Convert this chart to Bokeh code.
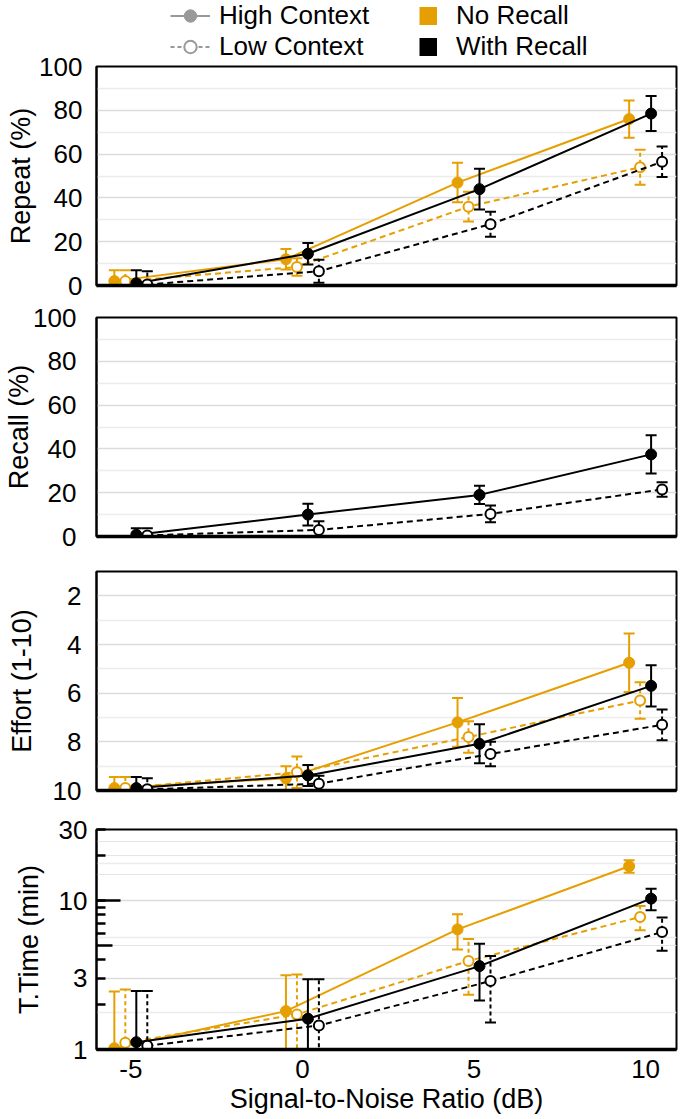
import numpy as np
from bokeh.plotting import figure
from bokeh.layouts import column
from bokeh.models import (Range1d, FixedTicker, LogAxis, Legend, LegendItem, Grid,
                          CustomJSTickFormatter)
from bokeh.embed import file_html
from bokeh.resources import INLINE

# ---------------- data ----------------
snr = [-5, 0, 5, 10]
snr_ticks = [-5, 0, 5, 10]

# Repeat (%)
repeat_nr_hi = [2, 12, 47, 76]
repeat_nr_hi_err = [5, 4.7, 9, 8.5]
repeat_nr_lo = [2, 8.5, 36, 54]
repeat_nr_lo_err = [5, 4, 6.8, 8]
repeat_wr_hi = [1, 14.5, 44, 78.5]
repeat_wr_hi_err = [6, 4.9, 9.3, 8]
repeat_wr_lo = [0.5, 6.5, 28, 56.5]
repeat_wr_lo_err = [6, 5.3, 5.7, 7]

# Recall (%)  (only the With Recall condition)
recall_wr_hi = [0.8, 10, 19, 37.5]
recall_wr_hi_err = [3, 5, 4.2, 8.7]
recall_wr_lo = [0.5, 3, 10.3, 21.5]
recall_wr_lo_err = [3.3, 4, 3.8, 3.3]

# Effort (1-10)
effort_nr_hi = [9.9, 9.5, 7.2, 4.75]
effort_nr_hi_err = [0.45, 0.5, 1.0, 1.2]
effort_nr_lo = [9.9, 9.25, 7.8, 6.3]
effort_nr_lo_err = [0.45, 0.65, 0.65, 0.75]
effort_wr_hi = [9.9, 9.38, 8.08, 5.7]
effort_wr_hi_err = [0.45, 0.43, 0.8, 0.85]
effort_wr_lo = [9.95, 9.72, 8.5, 7.3]
effort_wr_lo_err = [0.45, 0.33, 0.5, 0.63]

# T.Time (min)
ttime_nr_hi = [1.02, 1.81, 6.4, 17.0]
ttime_nr_hi_err = [1.43, 1.34, 1.7, 1.65]
ttime_nr_lo = [1.11, 1.72, 3.93, 7.76]
ttime_nr_lo_err = [1.42, 1.47, 1.6, 1.45]
ttime_wr_hi = [1.12, 1.61, 3.63, 10.3]
ttime_wr_hi_err = [1.35, 1.35, 1.5, 1.7]
ttime_wr_lo = [1.06, 1.45, 2.88, 6.15]
ttime_wr_lo_err = [1.41, 1.51, 1.36, 1.55]

pct_ticks = [0, 20, 40, 60, 80, 100]
pct_minor = [10, 30, 50, 70, 90]
effort_ticks = [2, 4, 6, 8, 10]
effort_minor = [3, 5, 7, 9]
time_ticks = [1, 3, 10, 30]
time_minor_ticks = [2, 4, 6, 7, 8, 9, 20]
time_long_ticks = [10]
time_mid_ticks = [5]
time_grid_major = [3, 10]
time_grid_minor = [1.78, 5.62, 17.8]

legend_context = ["High Context", "Low Context"]
legend_recall = ["No Recall", "With Recall"]

# ---------------- style ----------------
ORANGE = "#E69F00"
BLACK = "#000000"
GREY = "#999999"
FONT = "Liberation Sans"
FS = "26px"
TFS = "27px"
OFFS = {"nr_hi": -0.48, "nr_lo": -0.16, "wr_hi": 0.16, "wr_lo": 0.48}
EMPTY = CustomJSTickFormatter(code="return '';")
PLAIN = CustomJSTickFormatter(code="return tick.toString();")
NAN = [float("nan")]


def make_fig(height, top, bottom, y_range, log=False):
    p = figure(width=680, height=height,
               x_range=Range1d(-6, 10.9), y_range=y_range,
               y_axis_type="log" if log else "linear",
               y_axis_location=None if log else "left",
               toolbar_location=None, output_backend="svg",
               min_border_left=96, min_border_right=4,
               min_border_top=top, min_border_bottom=bottom)
    p.outline_line_color = "black"
    p.outline_line_width = 2
    p.outline_line_alpha = 1
    p.background_fill_color = "white"
    p.border_fill_color = "white"
    p.xgrid.visible = False
    ax = p.xaxis[0]
    ax.ticker = FixedTicker(ticks=snr_ticks)
    ax.axis_line_width = 3.5
    ax.axis_line_color = "black"
    ax.major_tick_line_color = None
    ax.minor_tick_line_color = None
    return p


def style_y(ax, standoff, title, title_standoff):
    ax.axis_label = title
    ax.axis_label_text_font = FONT
    ax.axis_label_text_font_size = TFS
    ax.axis_label_text_font_style = "normal"
    ax.axis_label_text_color = "black"
    ax.axis_label_standoff = title_standoff
    ax.major_label_text_font = FONT
    ax.major_label_text_font_size = FS
    ax.major_label_text_color = "black"
    ax.major_label_standoff = standoff
    ax.axis_line_width = 2
    ax.axis_line_color = "black"


def hide_x_labels(p):
    ax = p.xaxis[0]
    ax.formatter = EMPTY
    ax.major_label_text_font_size = "1px"
    ax.major_label_standoff = 0


def draw(p, vals, errs, color, hollow, offset, log=False):
    x = [s + offset for s in snr]
    v = np.array(vals, dtype=float)
    e = np.array(errs, dtype=float)
    lo = v - e
    hi = v + e
    if log:
        lo = np.maximum(lo, 0.05)
    dash = "6 4" if hollow else "solid"
    p.line(x, vals, line_color=color, line_width=2, line_dash=dash)
    p.segment(x, lo, x, hi, line_color=color, line_width=2,
              line_dash="4 3" if hollow else "solid")
    p.scatter(x, hi, marker="dash", size=11, line_color=color, line_width=2)
    p.scatter(x, lo, marker="dash", size=11, line_color=color, line_width=2)
    if hollow:
        p.scatter(x, vals, marker="circle", size=10, fill_color="white",
                  line_color=color, line_width=2)
    else:
        p.scatter(x, vals, marker="circle", size=11, fill_color=color,
                  line_color=color, line_width=1)


def pct_grid(p, ticks, minor):
    p.yaxis[0].ticker = FixedTicker(ticks=ticks, minor_ticks=minor)
    p.yaxis[0].major_tick_line_color = None
    p.yaxis[0].minor_tick_line_color = None
    p.ygrid.grid_line_color = "#dcdcdc"
    p.ygrid.grid_line_width = 1.5
    p.ygrid.minor_grid_line_color = "#ececec"
    p.ygrid.minor_grid_line_width = 1.5


# ---------------- legend strip ----------------
pl = figure(width=680, height=56, x_range=Range1d(0, 1), y_range=Range1d(0, 1),
            x_axis_location=None, y_axis_location=None,
            toolbar_location=None, output_backend="svg",
            min_border=0, min_border_left=0, min_border_right=0,
            min_border_top=0, min_border_bottom=0)
pl.outline_line_color = None
pl.xgrid.visible = False
pl.ygrid.visible = False
pl.background_fill_color = "white"
pl.border_fill_color = "white"

l_hi = pl.line(NAN, NAN, line_color=GREY, line_width=2)
c_hi = pl.scatter(NAN, NAN, marker="circle", fill_color=GREY, line_color=GREY)
l_lo = pl.line(NAN, NAN, line_color=GREY, line_width=2, line_dash="4 3")
c_lo = pl.scatter(NAN, NAN, marker="circle", fill_color="white", line_color=GREY, line_width=2)
q_nr = pl.line(NAN, NAN, line_color=ORANGE, line_width=18, line_cap="butt")
q_wr = pl.line(NAN, NAN, line_color=BLACK, line_width=18, line_cap="butt")

common = dict(orientation="vertical", padding=0, margin=0, spacing=0,
              border_line_color=None, background_fill_alpha=0,
              label_text_font=FONT, label_text_font_size=FS,
              label_text_color="black", label_height=31, glyph_height=31)
leg1 = Legend(items=[LegendItem(label=legend_context[0], renderers=[l_hi, c_hi]),
                     LegendItem(label=legend_context[1], renderers=[l_lo, c_lo])],
              location=(74, -5.5), glyph_width=40,
              label_standoff=9, **common)
leg2 = Legend(items=[LegendItem(label=legend_recall[0], renderers=[q_nr]),
                     LegendItem(label=legend_recall[1], renderers=[q_wr])],
              location=(323, -5.5), glyph_width=18,
              label_standoff=19, **common)
pl.add_layout(leg1)
pl.add_layout(leg2)

# ---------------- panel 1: Repeat ----------------
p1 = make_fig(245, 10, 16, Range1d(0, 100))
pct_grid(p1, pct_ticks, pct_minor)
style_y(p1.yaxis[0], 8, "Repeat (%)", 0)
hide_x_labels(p1)
draw(p1, repeat_nr_hi, repeat_nr_hi_err, ORANGE, False, OFFS["nr_hi"])
draw(p1, repeat_nr_lo, repeat_nr_lo_err, ORANGE, True, OFFS["nr_lo"])
draw(p1, repeat_wr_hi, repeat_wr_hi_err, BLACK, False, OFFS["wr_hi"])
draw(p1, repeat_wr_lo, repeat_wr_lo_err, BLACK, True, OFFS["wr_lo"])

# ---------------- panel 2: Recall ----------------
p2 = make_fig(252, 16, 17, Range1d(0, 100))
pct_grid(p2, pct_ticks, pct_minor)
style_y(p2.yaxis[0], 14, "Recall (%)", -4)
hide_x_labels(p2)
draw(p2, recall_wr_hi, recall_wr_hi_err, BLACK, False, OFFS["wr_hi"])
draw(p2, recall_wr_lo, recall_wr_lo_err, BLACK, True, OFFS["wr_lo"])

# ---------------- panel 3: Effort (reversed) ----------------
p3 = make_fig(256, 18, 19, Range1d(10, 1))
pct_grid(p3, effort_ticks, effort_minor)
style_y(p3.yaxis[0], 9, "Effort (1-10)", 13)
hide_x_labels(p3)
draw(p3, effort_nr_hi, effort_nr_hi_err, ORANGE, False, OFFS["nr_hi"])
draw(p3, effort_nr_lo, effort_nr_lo_err, ORANGE, True, OFFS["nr_lo"])
draw(p3, effort_wr_hi, effort_wr_hi_err, BLACK, False, OFFS["wr_hi"])
draw(p3, effort_wr_lo, effort_wr_lo_err, BLACK, True, OFFS["wr_lo"])

# ---------------- panel 4: T.Time (log) ----------------
p4 = make_fig(310, 20, 70, Range1d(1, 30), log=True)
grid = Grid(dimension=1, ticker=FixedTicker(ticks=time_grid_major, minor_ticks=time_grid_minor),
            grid_line_color="#dcdcdc", grid_line_width=1.5,
            minor_grid_line_color="#ececec", minor_grid_line_width=1.5)
p4.add_layout(grid)

tick_axis = LogAxis(ticker=FixedTicker(ticks=time_long_ticks, minor_ticks=time_mid_ticks),
                    formatter=EMPTY,
                    major_tick_in=24, major_tick_out=0, minor_tick_in=16, minor_tick_out=0,
                    major_tick_line_width=2.5, minor_tick_line_width=2.5,
                    major_tick_line_color="black", minor_tick_line_color="black",
                    major_label_text_font_size="1px", major_label_standoff=0,
                    axis_line_color=None)
main_axis = LogAxis(ticker=FixedTicker(ticks=time_ticks, minor_ticks=time_minor_ticks),
                    major_tick_in=9, major_tick_out=0, minor_tick_in=9, minor_tick_out=0,
                    major_tick_line_width=2.5, minor_tick_line_width=2.5,
                    major_tick_line_color="black", minor_tick_line_color="black")
style_y(main_axis, 9, "T.Time (min)", 12)
p4.add_layout(tick_axis, "left")
p4.add_layout(main_axis, "left")

xa = p4.xaxis[0]
xa.formatter = PLAIN
xa.axis_label = "Signal-to-Noise Ratio (dB)"
xa.axis_label_text_font = FONT
xa.axis_label_text_font_size = TFS
xa.axis_label_text_font_style = "normal"
xa.axis_label_text_color = "black"
xa.axis_label_standoff = 3
xa.major_label_text_font = FONT
xa.major_label_text_font_size = FS
xa.major_label_text_color = "black"
xa.major_label_standoff = 4

draw(p4, ttime_nr_hi, ttime_nr_hi_err, ORANGE, False, OFFS["nr_hi"], log=True)
draw(p4, ttime_nr_lo, ttime_nr_lo_err, ORANGE, True, OFFS["nr_lo"], log=True)
draw(p4, ttime_wr_hi, ttime_wr_hi_err, BLACK, False, OFFS["wr_hi"], log=True)
draw(p4, ttime_wr_lo, ttime_wr_lo_err, BLACK, True, OFFS["wr_lo"], log=True)

layout = column(pl, p1, p2, p3, p4, spacing=0)
open("out.html", "w").write(file_html(layout, INLINE))
